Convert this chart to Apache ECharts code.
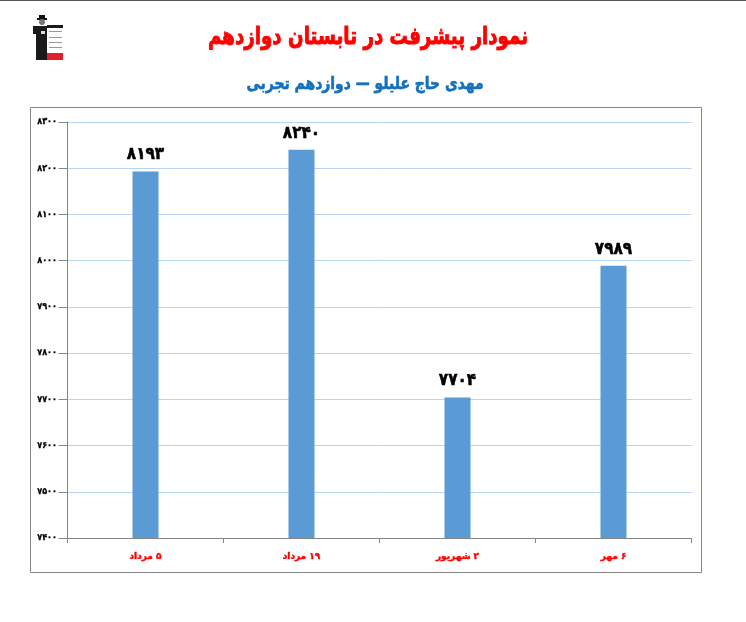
<!DOCTYPE html>
<html><head><meta charset="utf-8">
<style>html,body{margin:0;padding:0;background:#fff}#c{width:746px;height:622px}</style>
<script src="https://cdn.jsdelivr.net/npm/echarts@6/dist/echarts.min.js"></script>
</head><body><div id="c"></div>
<script>
const titleText = 'نمودار پیشرفت در تابستان دوازدهم';
const subtitleText = 'مهدی حاج علیلو — دوازدهم تجربی';
const categories = ['۵ مرداد','۱۹ مرداد','۲ شهریور','۶ مهر'];
const values = [8193, 8240, 7704, 7989];
const yMin = 7400, yMax = 8300, yStep = 100;
const fa = v => String(v).replace(/\d/g, d => '۰۱۲۳۴۵۶۷۸۹'[d]);
const font = '"DejaVu Sans"';
const condensed = '"DejaVu Sans Condensed","DejaVu Sans"';
const rect = (x,y,w,h,fill) => ({type:'rect',silent:true,shape:{x,y,width:w,height:h},style:{fill}});
const chart = echarts.init(document.getElementById('c'), null, {renderer:'canvas'});
chart.setOption({
  animation:false,
  backgroundColor:'#fff',
  grid:{left:67.5,right:54.5,top:122,bottom:84},
  xAxis:{type:'category',data:categories,
    axisLine:{lineStyle:{color:'#868686',width:1}},
    axisTick:{show:true,length:5,alignWithLabel:false,lineStyle:{color:'#868686'}},
    axisLabel:{margin:14,fontFamily:font,fontWeight:'bold',fontSize:9,color:'#ff0000',textBorderColor:'#ff0000',textBorderWidth:0.4,formatter:v=>'\u200f'+v}},
  yAxis:{type:'value',min:yMin,max:yMax,interval:yStep,
    axisLine:{show:true,lineStyle:{color:'#868686',width:1}},
    axisTick:{show:true,length:9,lineStyle:{color:'#868686'}},
    splitLine:{lineStyle:{color:'#b6d5f5',width:1}},
    axisLabel:{margin:10.5,fontFamily:condensed,fontWeight:'bold',fontSize:9,color:'#000',textBorderColor:'#000',textBorderWidth:0.3,formatter:v=>fa(v)}},
  series:[{type:'bar',data:values,barWidth:26,
    itemStyle:{color:'#5b9bd5'},
    label:{show:true,position:'top',distance:8,formatter:p=>fa(p.value),fontFamily:condensed,fontWeight:'bold',fontSize:17,color:'#000',textBorderColor:'#000',textBorderWidth:0.5}}],
  graphic:[
    {type:'text',silent:true,x:368,y:38,scaleX:0.76,style:{text:titleText,align:'center',verticalAlign:'middle',font:'bold 24px '+font,fill:'#ff0000',stroke:'#ff0000',lineWidth:0.9}},
    {type:'text',silent:true,x:365,y:85,scaleX:0.82,style:{text:subtitleText,align:'center',verticalAlign:'middle',font:'bold 17px '+font,fill:'#1470bd',stroke:'#1470bd',lineWidth:0.6}},
    {type:'rect',silent:true,shape:{x:30.5,y:107.5,width:671,height:465},style:{fill:'none',stroke:'#868686',lineWidth:1}},
    rect(0,0,746,1,'#555'),
    rect(39,15,6,3,'#111'), rect(37,18,10,2,'#111'),
    {type:'circle',silent:true,shape:{cx:42,cy:22,r:3},style:{fill:'#777'}},
    rect(33,26,14,8,'#1a1a1a'), rect(36,34,11,26,'#1a1a1a'),
    rect(47,25,16,3,'#1a1a1a'),
    rect(41,31,4,3,'#ddd'),
    rect(49,31,13,1,'#999'), rect(49,37,13,1,'#999'), rect(49,42,13,1,'#999'), rect(49,47,13,1,'#999'),
    rect(47,53,16,7,'#e0202a')
  ]
});
</script></body></html>
